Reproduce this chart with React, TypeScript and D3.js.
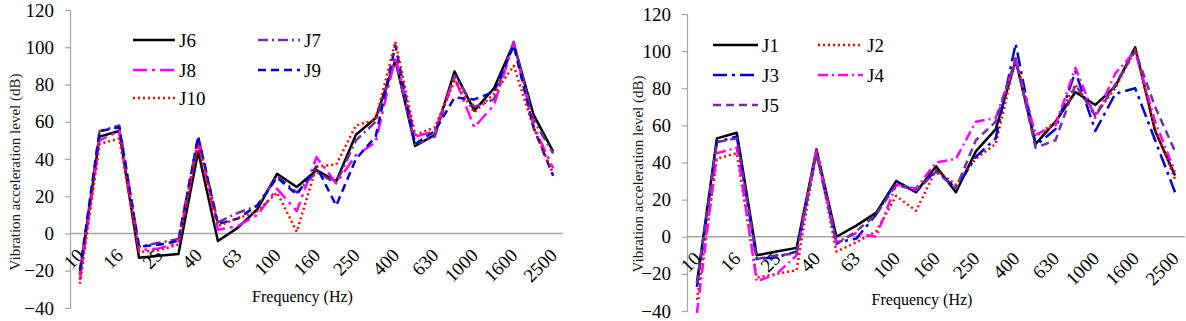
import React, { useRef, useEffect } from 'react';
import * as d3 from 'd3';

// one-third octave bands, 10 Hz - 2.5 kHz
const categories = ['10', '12.5', '16', '20', '25', '31.5', '40', '50', '63', '80', '100', '125', '160',
  '200', '250', '315', '400', '500', '630', '800', '1000', '1250', '1600', '2000', '2500'];
const tickLabels = ['10', '16', '25', '40', '63', '100', '160', '250', '400', '630', '1000', '1600', '2500'];
const yTicks = [-40, -20, 0, 20, 40, 60, 80, 100, 120];

// left panel
const J6 = [-22, 52, 55, -13, -12, -11, 44, -4, 3, 13, 32, 25, 34, 28, 53, 62, 93, 47, 53, 87, 66, 78, 102, 64, 44];
const J7 = [-22, 55, 58, -7, -5, -3, 52, 6, 11, 15, 31, 22, 33, 27, 50, 60, 93, 48, 52, 85, 68, 72, 103, 61, 43];
const J8 = [-25, 50, 55, -9, -8, -5, 50, 2, 4, 10, 24, 12, 41, 27, 42, 49, 95, 52, 55, 84, 57, 69, 102, 58, 35];
const J9 = [-20, 55, 57, -7, -6, -4, 52, 5, 8, 15, 30, 21, 36, 15, 40, 52, 101, 48, 55, 73, 72, 76, 101, 57, 31];
const J10 = [-27, 48, 51, -10, -9, -6, 48, 4, 8, 12, 22, 1, 36, 37, 58, 61, 103, 53, 57, 82, 65, 75, 90, 57, 32];

// right panel
const J1 = [-25, 53, 56, -10, -8, -6, 47, 0, 6, 13, 30, 24, 38, 24, 46, 58, 95, 50, 62, 78, 71, 81, 102, 57, 33];
const J2 = [-34, 42, 45, -22, -20, -18, 47, -8, -3, 3, 22, 14, 36, 28, 42, 50, 96, 54, 62, 82, 66, 80, 101, 58, 31];
const J3 = [-27, 51, 54, -12, -11, -8, 45, -3, -1, 12, 30, 24, 36, 26, 43, 53, 104, 49, 58, 89, 57, 77, 80, 52, 24];
const J4 = [-41, 45, 48, -24, -20, -10, 47, -3, 2, 0, 28, 26, 40, 42, 62, 64, 95, 55, 60, 91, 64, 88, 100, 62, 35];
const J5 = [-25, 51, 53, -12, -10, -9, 45, -4, 3, 12, 28, 25, 35, 26, 52, 62, 96, 48, 52, 82, 65, 82, 100, 70, 46];

const FONT = "'Liberation Serif', 'DejaVu Serif', 'Noto Serif', 'Times New Roman', Times, serif";
const AXIS_GRAY = '#A6A6A6';

const PANELS = [
  {
    left: 70, right: 563, top: 10, bottom: 308, titleX: 20, titleY: 172, xTitleY: 302,
    series: [
      { name: 'J6', values: J6, color: '#000000', dash: null },
      { name: 'J7', values: J7, color: '#7030A0', dash: '10,4,2,4' },
      { name: 'J8', values: J8, color: '#FF00FF', dash: '14,5,3,5' },
      { name: 'J9', values: J9, color: '#0000CC', dash: '8,5' },
      { name: 'J10', values: J10, color: '#FF0000', dash: '2,3' },
    ],
    legend: [[133, 40], [258, 40], [133, 70], [258, 70], [133, 98]],
    legendLen: 42,
  },
  {
    left: 687, right: 1185, top: 14, bottom: 311, titleX: 643, titleY: 174, xTitleY: 305,
    series: [
      { name: 'J1', values: J1, color: '#000000', dash: null },
      { name: 'J2', values: J2, color: '#FF0000', dash: '2,3' },
      { name: 'J3', values: J3, color: '#0000CC', dash: '14,5,3,5' },
      { name: 'J4', values: J4, color: '#FF00FF', dash: '10,4,2,4' },
      { name: 'J5', values: J5, color: '#7030A0', dash: '8,5' },
    ],
    legend: [[713, 45], [818, 45], [713, 75], [818, 75], [713, 105]],
    legendLen: 45,
  },
];

const drawPanel = (svg, p) => {
  const g = svg.append('g');
  const x = d3.scaleBand().domain(categories).range([p.left, p.right]);
  const y = d3.scaleLinear().domain([-40, 120]).range([p.bottom, p.top]);
  const cx = c => x(c) + x.bandwidth() / 2;

  const yAxis = g.append('g')
    .attr('transform', `translate(${p.left},0)`)
    .call(d3.axisLeft(y).tickValues(yTicks).tickSize(5).tickPadding(11));
  yAxis.attr('font-family', null).attr('font-size', null);
  yAxis.select('.domain').attr('stroke', AXIS_GRAY).attr('stroke-width', 1.2);
  yAxis.selectAll('.tick line').attr('stroke', AXIS_GRAY).attr('stroke-width', 1.2);
  yAxis.selectAll('.tick text').attr('font-size', 19).attr('fill', '#000');

  // category axis crosses at 0
  g.append('line')
    .attr('x1', p.left).attr('x2', p.right)
    .attr('y1', y(0)).attr('y2', y(0))
    .attr('stroke', AXIS_GRAY).attr('stroke-width', 1.5);

  g.selectAll('text.xlab')
    .data(tickLabels)
    .join('text')
    .attr('class', 'xlab')
    .attr('transform', d => `translate(${cx(d) + 5},${y(0) + 23}) rotate(-45)`)
    .attr('text-anchor', 'end')
    .attr('font-size', 19)
    .text(d => d);

  const line = d3.line().x((d, i) => cx(categories[i])).y(d => y(d));

  p.series.forEach(s => {
    g.append('path')
      .attr('d', line(s.values))
      .attr('fill', 'none')
      .attr('stroke', s.color)
      .attr('stroke-width', 2.5)
      .attr('stroke-dasharray', s.dash)
      .attr('stroke-linejoin', 'round');
  });

  p.series.forEach((s, i) => {
    const [lx, ly] = p.legend[i];
    g.append('line')
      .attr('x1', lx).attr('x2', lx + p.legendLen)
      .attr('y1', ly).attr('y2', ly)
      .attr('stroke', s.color)
      .attr('stroke-width', 2.5)
      .attr('stroke-dasharray', s.dash);
    g.append('text')
      .attr('x', lx + p.legendLen + 4).attr('y', ly)
      .attr('dy', '0.35em')
      .attr('font-size', 19)
      .text(s.name);
  });

  g.append('text')
    .attr('transform', `translate(${p.titleX},${p.titleY}) rotate(-90)`)
    .attr('text-anchor', 'middle')
    .attr('font-size', 15)
    .attr('fill', '#1a1a1a')
    .text('Vibration acceleration level (dB)');

  g.append('text')
    .attr('x', (p.left + p.right) / 2 - 14)
    .attr('y', p.xTitleY)
    .attr('text-anchor', 'middle')
    .attr('font-size', 16)
    .text('Frequency (Hz)');
};

const App = () => {
  const ref = useRef(null);

  useEffect(() => {
    const svg = d3.select(ref.current);
    svg.selectAll('*').remove();
    PANELS.forEach(p => drawPanel(svg, p));
  }, []);

  return (
    <div style={{ position: 'absolute', left: 0, top: 0, background: '#fff' }}>
      <svg ref={ref} width={1186} height={321} fontFamily={FONT} style={{ display: 'block' }} />
    </div>
  );
};

export default App;
